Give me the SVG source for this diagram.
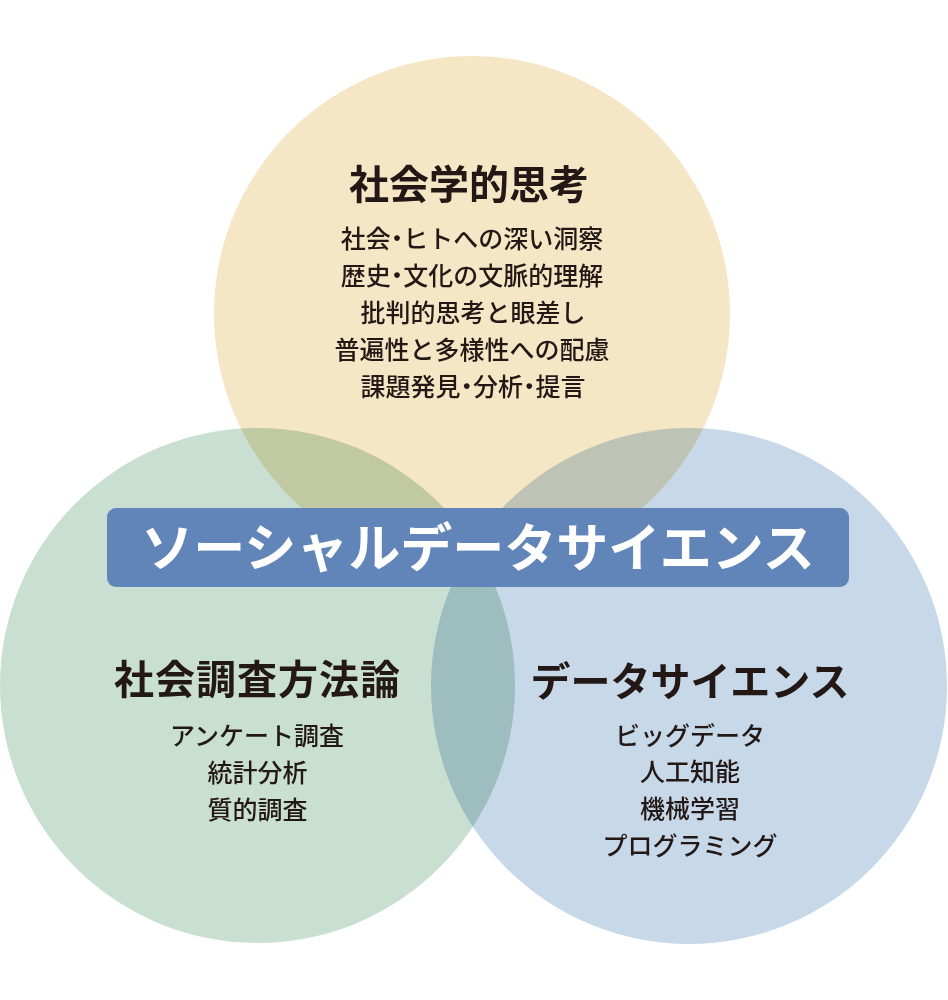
<svg xmlns="http://www.w3.org/2000/svg" width="948" height="1000" viewBox="0 0 948 1000">
<style>
.c{mix-blend-mode:multiply}
.t{font-family:"Noto Sans CJK JP","Noto Sans CJK SC",sans-serif;fill:#231815;text-anchor:middle}
.h{font-size:40px;font-weight:700}
.s{font-size:25px;font-weight:500}
.p{font-feature-settings:"palt" 1}
.b{font-family:"Noto Sans CJK JP","Noto Sans CJK SC",sans-serif;fill:#ffffff;font-size:52px;font-weight:700;text-anchor:middle}
</style>
<rect width="948" height="1000" fill="#ffffff"/>
<g id="circles" style="isolation:isolate">
<circle id="c-top" class="c" cx="472" cy="314" r="258" fill="#f5e6c6"/>
<circle id="c-left" class="c" cx="257.5" cy="685.5" r="257.5" fill="#c9dfd1"/>
<circle id="c-right" class="c" cx="689" cy="686" r="258" fill="#c7d8e9"/>
</g>
<g id="connectors"/>
<g id="node-top">
<text class="t h" x="469" y="199">社会学的思考</text>
<text class="t s" x="472" y="248">社会<tspan class="p">・</tspan>ヒトへの深い洞察</text>
<text class="t s" x="472" y="285">歴史<tspan class="p">・</tspan>文化の文脈的理解</text>
<text class="t s" x="473" y="322">批判的思考と眼差し</text>
<text class="t s" x="472" y="359">普遍性と多様性への配慮</text>
<text class="t s" x="473" y="396">課題発見<tspan class="p">・</tspan>分析<tspan class="p">・</tspan>提言</text>
</g>
<g id="node-left">
<text class="t h" x="257.5" y="694" style="letter-spacing:1px">社会調査方法論</text>
<text class="t s" x="257" y="745">アンケート調査</text>
<text class="t s" x="257.5" y="782">統計分析</text>
<text class="t s" x="257.5" y="819">質的調査</text>
</g>
<g id="node-right">
<text class="t h" x="690" y="696">データサイエンス</text>
<text class="t s" x="690" y="745">ビッグデータ</text>
<text class="t s" x="690" y="781">人工知能</text>
<text class="t s" x="690" y="818">機械学習</text>
<text class="t s" x="690" y="855">プログラミング</text>
</g>
<g id="node-banner">
<rect x="107" y="508" width="742" height="79" rx="9" fill="#6184b9"/>
<text class="b" x="478" y="567">ソーシャルデータサイエンス</text>
</g>
</svg>
